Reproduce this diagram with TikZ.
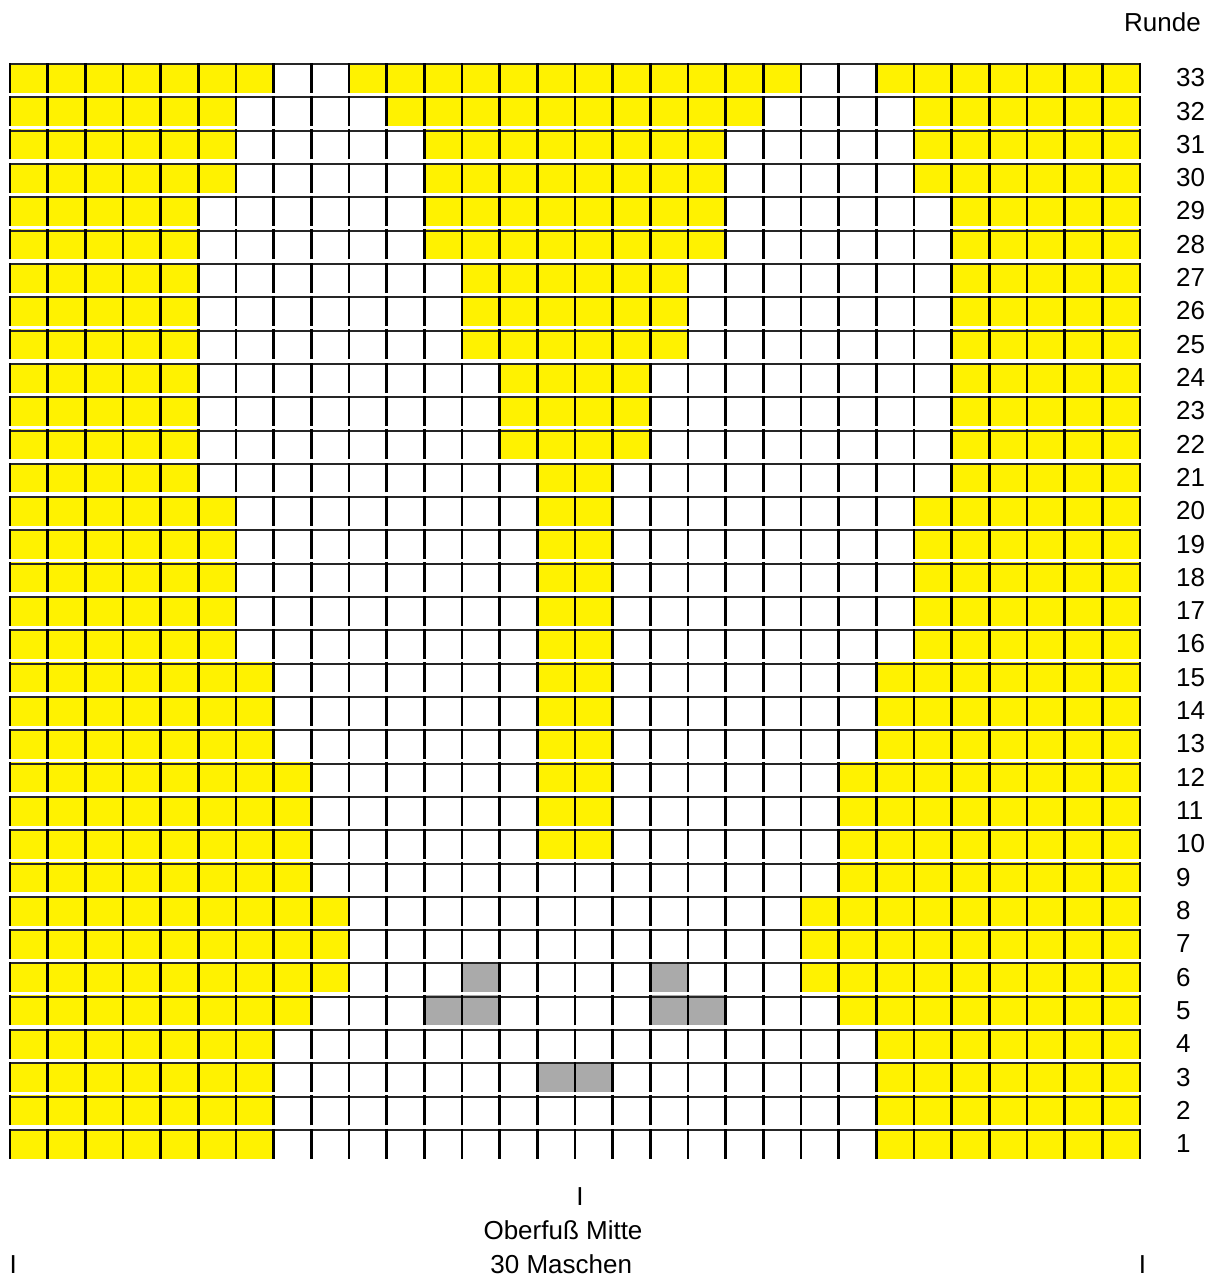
\documentclass[tikz,border=0pt]{standalone}
\usepackage{fontspec}
\setmainfont{Liberation Sans}
\definecolor{stitchgray}{RGB}{170,170,170}
\begin{document}
\begin{tikzpicture}[x=37.667pt, y=33.31pt,
  yellowcell/.style={fill=yellow},
  graycell/.style={fill=stitchgray},
  rowline/.style={line width=2pt, black!85},
  colline/.style={line width=2.4pt, black},
  lbl/.style={inner sep=0pt, font=\fontsize{26}{31}\selectfont}]
  \useasboundingbox (-0.2655,-3.612) rectangle (32.018,34.785);
  % yellow cells: row / left up to / middle from / middle to / right from
  \foreach \r/\L/\a/\b/\R in {33/7/10/21/24, 32/6/11/20/25,
      31/6/12/19/25, 30/6/12/19/25, 29/5/12/19/26, 28/5/12/19/26,
      27/5/13/18/26, 26/5/13/18/26, 25/5/13/18/26,
      24/5/14/17/26, 23/5/14/17/26, 22/5/14/17/26, 21/5/15/16/26,
      20/6/15/16/25, 19/6/15/16/25, 18/6/15/16/25, 17/6/15/16/25, 16/6/15/16/25,
      15/7/15/16/24, 14/7/15/16/24, 13/7/15/16/24,
      12/8/15/16/23, 11/8/15/16/23, 10/8/15/16/23,
      9/8/0/0/23, 8/9/0/0/22, 7/9/0/0/22, 6/9/0/0/22, 5/8/0/0/23,
      4/7/0/0/24, 3/7/0/0/24, 2/7/0/0/24, 1/7/0/0/24} {
    \fill[yellowcell] (0,\r-1) rectangle (\L,\r-0.1);
    \fill[yellowcell] (\R-1,\r-1) rectangle (30,\r-0.1);
    \ifnum\a>0
      \fill[yellowcell] (\a-1,\r-1) rectangle (\b,\r-0.1);
    \fi
  }
  % gray cells
  \foreach \r/\c in {6/13, 6/18, 5/12, 5/13, 5/18, 5/19, 3/15, 3/16}
    \fill[graycell] (\c-1,\r-1) rectangle (\c,\r-0.1);
  % grid and row numbers
  \foreach \r in {1,...,33} {
    \draw[rowline] (0,\r-0.14) -- (30,\r-0.14);
    \foreach \c in {0,...,30}
      \draw[colline] (\c,\r-1) -- (\c,\r-0.1);
    \node[lbl, anchor=west] (row\r) at (30.956,\r-0.55) {\r};
  }
  % labels
  \node[lbl, anchor=base] (runde) at (30.597,33.825) {Runde};
  \node[lbl, anchor=base] (mitte) at (15.133,-1.42) {I};
  \node[lbl, anchor=base] (oberfuss) at (14.681,-2.441) {Oberfuß Mitte};
  \node[lbl, anchor=base] (maschen) at (14.636,-3.45) {30 Maschen};
  \node[lbl, anchor=base] (links) at (0.088,-3.45) {I};
  \node[lbl, anchor=base] (rechts) at (30.067,-3.45) {I};
\end{tikzpicture}
\end{document}
